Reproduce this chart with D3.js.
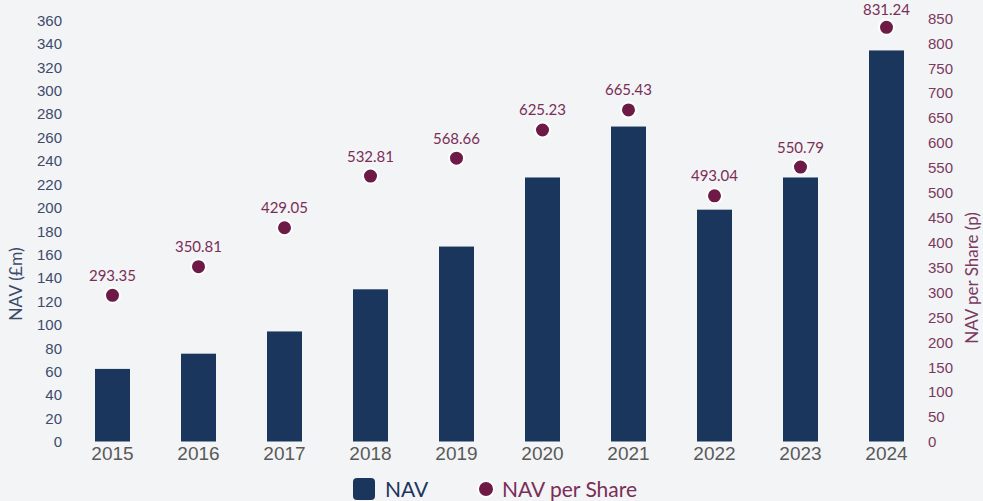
<!DOCTYPE html>
<html><head><meta charset="utf-8">
<script src="https://cdn.jsdelivr.net/npm/d3@7"></script>
<style>
html,body{margin:0;padding:0;background:#f3f4f6;}
svg{display:block;font-family:"Lato","Open Sans",sans-serif;}
</style></head>
<body><svg id="chart" width="983" height="501"></svg>
<script>
const years = ["2015","2016","2017","2018","2019","2020","2021","2022","2023","2024"];
const navValues = [62, 75, 94, 130, 166.5, 225.5, 269, 198, 225.5, 334];
const navPerShare = [293.35, 350.81, 429.05, 532.81, 568.66, 625.23, 665.43, 493.04, 550.79, 831.24];
const leftTicks = d3.range(0, 361, 20);
const rightTicks = d3.range(0, 851, 50);

const svg = d3.select("#chart");
const barColor = "#1b365d", dotColor = "#6d1a46";
const x = d3.scaleBand().domain(years).range([69.5, 929.5]).paddingInner(0.593).paddingOuter(0.2965);
const yL = d3.scaleLinear().domain([0, 360]).range([441.5, 20]);
const yR = d3.scaleLinear().domain([0, 850]).range([441.5, 18]);

// left axis
const gL = svg.append("g").attr("transform", "translate(62,0)")
  .call(d3.axisLeft(yL).tickValues(leftTicks).tickSize(0).tickPadding(0));
gL.select(".domain").remove();
gL.selectAll("text").attr("fill", "#3d4b6b").style("font-size", "15px").attr("dy", "0.35em");

// right axis
const gR = svg.append("g").attr("transform", "translate(928,0)")
  .call(d3.axisRight(yR).tickValues(rightTicks).tickSize(0).tickPadding(0));
gR.select(".domain").remove();
gR.selectAll("text").attr("fill", "#7a3a5f").style("font-size", "15px").attr("dy", "0.35em");

// x axis labels
const gX = svg.append("g").attr("transform", "translate(0,443)")
  .call(d3.axisBottom(x).tickSize(0).tickPadding(3));
gX.select(".domain").remove();
gX.selectAll("text").attr("fill", "#595959").style("font-size", "19px").attr("dy", "0.75em");

// bars
svg.append("g").selectAll("rect").data(years).join("rect")
  .attr("x", d => x(d)).attr("width", x.bandwidth())
  .attr("y", (d, i) => yL(navValues[i]))
  .attr("height", (d, i) => yL(0) - yL(navValues[i]))
  .attr("fill", barColor);

// dots
svg.append("g").selectAll("circle").data(years).join("circle")
  .attr("cx", d => x(d) + x.bandwidth() / 2)
  .attr("cy", (d, i) => yR(navPerShare[i]))
  .attr("r", 7.5).attr("fill", dotColor).attr("stroke", "#ffffff").attr("stroke-width", 2);

// data labels (kept inside the frame)
svg.append("g").selectAll("text").data(years).join("text")
  .attr("x", d => x(d) + x.bandwidth() / 2)
  .attr("y", (d, i) => Math.max(15, yR(navPerShare[i]) - 14.5))
  .attr("text-anchor", "middle").attr("fill", "#7a2e57").style("font-size", "15px")
  .text((d, i) => navPerShare[i].toFixed(2));

// axis titles
svg.append("text").attr("transform", "translate(22,284) rotate(-90)")
  .attr("text-anchor", "middle").attr("fill", "#3d4b6b").style("font-size", "17.5px").text("NAV (£m)");
svg.append("text").attr("transform", "translate(978,278) rotate(-90)")
  .attr("text-anchor", "middle").attr("fill", "#7a3a5f").style("font-size", "17px").text("NAV per Share (p)");

// legend
const lg = svg.append("g");
lg.append("rect").attr("x", 353).attr("y", 478).attr("width", 22).attr("height", 22).attr("rx", 4).attr("fill", barColor);
lg.append("text").attr("x", 385).attr("y", 497).attr("fill", "#1b365d").style("font-size", "21px").text("NAV");
lg.append("circle").attr("cx", 486).attr("cy", 489).attr("r", 8).attr("fill", dotColor).attr("stroke", "#ffffff").attr("stroke-width", 2);
lg.append("text").attr("x", 502).attr("y", 497).attr("fill", "#7a2e57").style("font-size", "21px").text("NAV per Share");
</script></body></html>
